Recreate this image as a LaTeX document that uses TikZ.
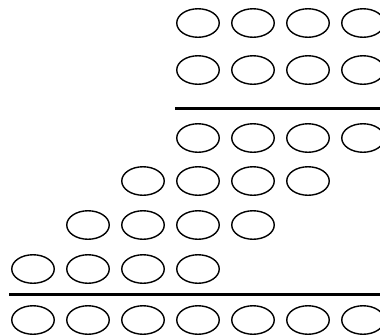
\documentclass[tikz,border=0pt]{standalone}
\usetikzlibrary{shapes.geometric}
\begin{document}
\begin{tikzpicture}[x=1pt,y=-1pt,
  oval/.style={draw=black,ellipse,line width=1.4pt,minimum width=42.5pt,minimum height=28.5pt,inner sep=0pt},
  rule/.style={line width=3pt}]
\useasboundingbox (0,0) rectangle (380,335);
\clip (0,0) rectangle (380,335);
% rows: name / y / first column / last column
\foreach \r/\y/\a/\b in {1/23/3/6, 2/70/3/6, 3/138/3/6, 4/181/2/5, 5/225/1/4, 6/269/0/3, 7/320/0/6}{
  \foreach \c in {\a,...,\b}{
    \node[oval] (r\r c\c) at ({33+55*\c},\y) {};
  }
}
\coordinate (l1a) at (175,108);
\coordinate (l1b) at (382,108);
\coordinate (l2a) at (9,294);
\coordinate (l2b) at (382,294);
\draw[rule] (l1a) -- (l1b);
\draw[rule] (l2a) -- (l2b);
\end{tikzpicture}
\end{document}
